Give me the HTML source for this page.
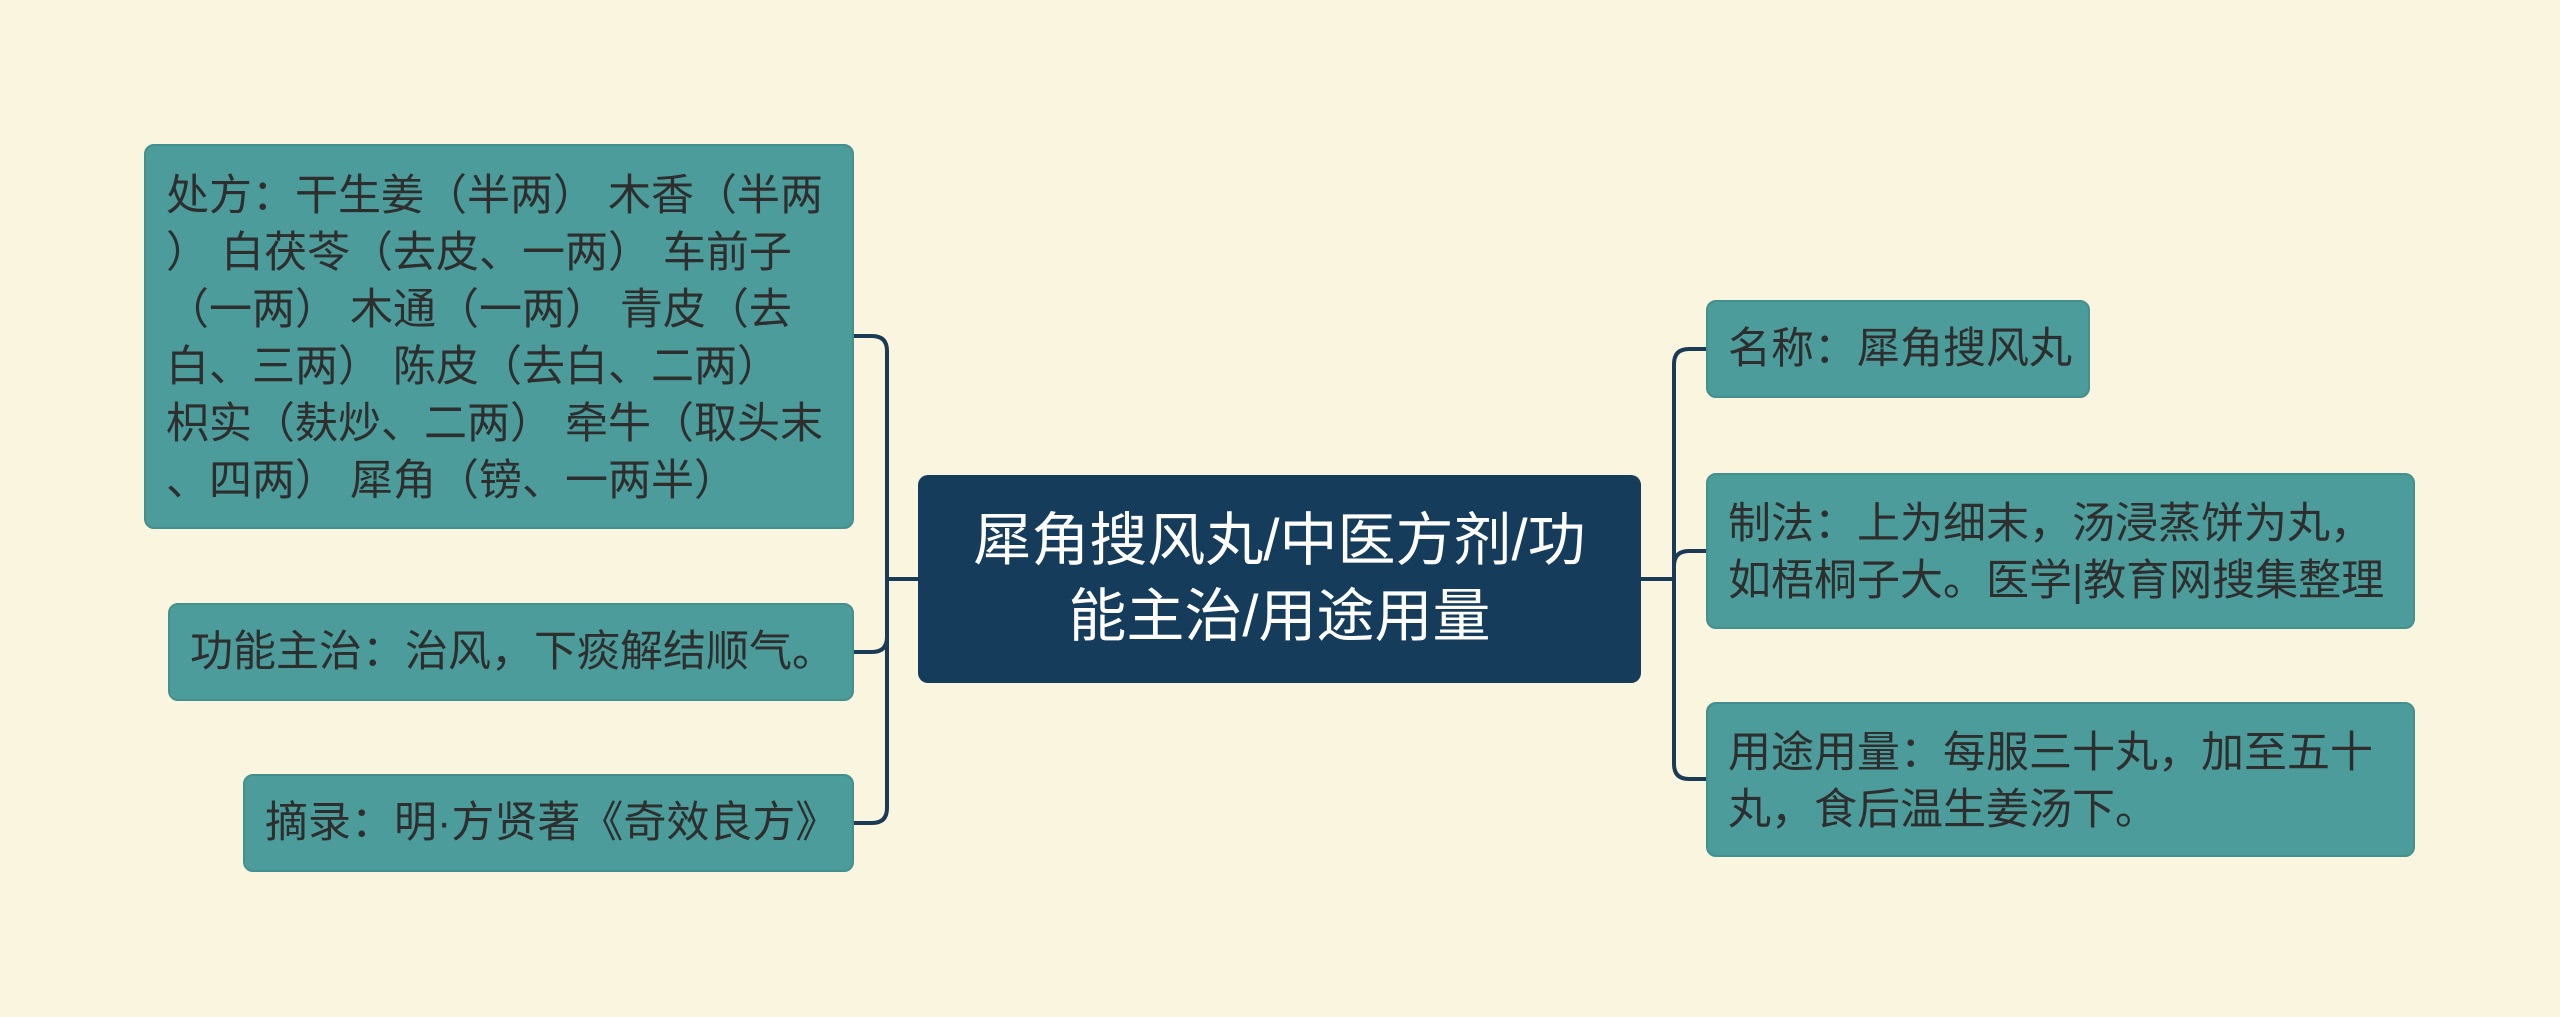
<!DOCTYPE html>
<html><head><meta charset="utf-8"><style>
html,body{margin:0;padding:0}
body{width:2560px;height:1017px;background:#faf5de;position:relative;overflow:hidden;font-family:"Liberation Sans","Noto Sans CJK SC",sans-serif}
.b{position:absolute;background:#4b9c9a;border:2px solid #43908e;border-radius:10px;box-sizing:border-box;color:#2e2e2e;font-size:43px;line-height:57px;padding:0 20px;white-space:nowrap}
.c{position:absolute;left:918px;top:475px;width:723px;height:208px;background:#153c5b;border-radius:10px;color:#fff;font-size:58px;line-height:76px;text-align:center;display:flex;align-items:center;justify-content:center;box-sizing:border-box;padding:0 20px;white-space:nowrap}
svg{position:absolute;left:0;top:0}
</style></head><body>
<svg width="2560" height="1017"><g fill="none" stroke="#1a3a55" stroke-width="4">
<path d="M918 579 H887"/>
<path d="M854 336 H872 Q887 336 887 351 V808 Q887 823 872 823 H854"/>
<path d="M854 652 H872 Q887 652 887 637"/>
<path d="M1641 579 H1674"/>
<path d="M1706 349 H1689 Q1674 349 1674 364 V764 Q1674 779 1689 779 H1706"/>
<path d="M1706 551 H1689 Q1674 551 1674 566"/>
</g></svg>
<div class="b" style="left:144px;top:144px;width:710px;height:385px;padding-top:22px">处方：干生姜（半两） 木香（半两<br>） 白茯苓（去皮、一两） 车前子<br>（一两） 木通（一两） 青皮（去<br>白、三两） 陈皮（去白、二两）<br>枳实（麸炒、二两） 牵牛（取头末<br>、四两） 犀角（镑、一两半）</div>
<div class="b" style="left:168px;top:603px;width:686px;height:98px;padding-top:19px">功能主治：治风，下痰解结顺气。</div>
<div class="b" style="left:243px;top:774px;width:611px;height:98px;padding-top:19px">摘录：明·方贤著《奇效良方》</div>
<div class="c">犀角搜风丸/中医方剂/功<br>能主治/用途用量</div>
<div class="b" style="left:1706px;top:300px;width:384px;height:98px;padding-top:19px">名称：犀角搜风丸</div>
<div class="b" style="left:1706px;top:473px;width:709px;height:156px;padding-top:21px">制法：上为细末，汤浸蒸饼为丸，<br>如梧桐子大。医学|教育网搜集整理</div>
<div class="b" style="left:1706px;top:702px;width:709px;height:155px;padding-top:21px">用途用量：每服三十丸，加至五十<br>丸，食后温生姜汤下。</div>
</body></html>
